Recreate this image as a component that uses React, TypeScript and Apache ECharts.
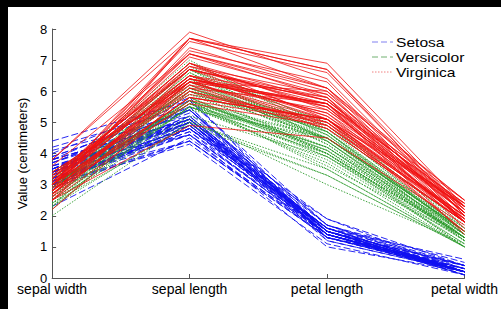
import React, { useEffect, useRef } from "react";
import * as echarts from "echarts";

// Axis order: sepal width, sepal length, petal length, petal width
const categories = ["sepal width", "sepal length", "petal length", "petal width"];
const yTicks = [0, 1, 2, 3, 4, 5, 6, 7, 8];
const speciesNames = ["Setosa", "Versicolor", "Virginica"];

// rows: [sepal length, sepal width, petal length, petal width]
const setosa: number[][] = [
  [5.1,3.5,1.4,0.2],[4.9,3.0,1.4,0.2],[4.7,3.2,1.3,0.2],[4.6,3.1,1.5,0.2],[5.0,3.6,1.4,0.2],
  [5.4,3.9,1.7,0.4],[4.6,3.4,1.4,0.3],[5.0,3.4,1.5,0.2],[4.4,2.9,1.4,0.2],[4.9,3.1,1.5,0.1],
  [5.4,3.7,1.5,0.2],[4.8,3.4,1.6,0.2],[4.8,3.0,1.4,0.1],[4.3,3.0,1.1,0.1],[5.8,4.0,1.2,0.2],
  [5.7,4.4,1.5,0.4],[5.4,3.9,1.3,0.4],[5.1,3.5,1.4,0.3],[5.7,3.8,1.7,0.3],[5.1,3.8,1.5,0.3],
  [5.4,3.4,1.7,0.2],[5.1,3.7,1.5,0.4],[4.6,3.6,1.0,0.2],[5.1,3.3,1.7,0.5],[4.8,3.4,1.9,0.2],
  [5.0,3.0,1.6,0.2],[5.0,3.4,1.6,0.4],[5.2,3.5,1.5,0.2],[5.2,3.4,1.4,0.2],[4.7,3.2,1.6,0.2],
  [4.8,3.1,1.6,0.2],[5.4,3.4,1.5,0.4],[5.2,4.1,1.5,0.1],[5.5,4.2,1.4,0.2],[4.9,3.1,1.5,0.2],
  [5.0,3.2,1.2,0.2],[5.5,3.5,1.3,0.2],[4.9,3.6,1.4,0.1],[4.4,3.0,1.3,0.2],[5.1,3.4,1.5,0.2],
  [5.0,3.5,1.3,0.3],[4.5,2.3,1.3,0.3],[4.4,3.2,1.3,0.2],[5.0,3.5,1.6,0.6],[5.1,3.8,1.9,0.4],
  [4.8,3.0,1.4,0.3],[5.1,3.8,1.6,0.2],[4.6,3.2,1.4,0.2],[5.3,3.7,1.5,0.2],[5.0,3.3,1.4,0.2],
];
const versicolor: number[][] = [
  [7.0,3.2,4.7,1.4],[6.4,3.2,4.5,1.5],[6.9,3.1,4.9,1.5],[5.5,2.3,4.0,1.3],[6.5,2.8,4.6,1.5],
  [5.7,2.8,4.5,1.3],[6.3,3.3,4.7,1.6],[4.9,2.4,3.3,1.0],[6.6,2.9,4.6,1.3],[5.2,2.7,3.9,1.4],
  [5.0,2.0,3.5,1.0],[5.9,3.0,4.2,1.5],[6.0,2.2,4.0,1.0],[6.1,2.9,4.7,1.4],[5.6,2.9,3.6,1.3],
  [6.7,3.1,4.4,1.4],[5.6,3.0,4.5,1.5],[5.8,2.7,4.1,1.0],[6.2,2.2,4.5,1.5],[5.6,2.5,3.9,1.1],
  [5.9,3.2,4.8,1.8],[6.1,2.8,4.0,1.3],[6.3,2.5,4.9,1.5],[6.1,2.8,4.7,1.2],[6.4,2.9,4.3,1.3],
  [6.6,3.0,4.4,1.4],[6.8,2.8,4.8,1.4],[6.7,3.0,5.0,1.7],[6.0,2.9,4.5,1.5],[5.7,2.6,3.5,1.0],
  [5.5,2.4,3.8,1.1],[5.5,2.4,3.7,1.0],[5.8,2.7,3.9,1.2],[6.0,2.7,5.1,1.6],[5.4,3.0,4.5,1.5],
  [6.0,3.4,4.5,1.6],[6.7,3.1,4.7,1.5],[6.3,2.3,4.4,1.3],[5.6,3.0,4.1,1.3],[5.5,2.5,4.0,1.3],
  [5.5,2.6,4.4,1.2],[6.1,3.0,4.6,1.4],[5.8,2.6,4.0,1.2],[5.0,2.3,3.3,1.0],[5.6,2.7,4.2,1.3],
  [5.7,3.0,4.2,1.2],[5.7,2.9,4.2,1.3],[6.2,2.9,4.3,1.3],[5.1,2.5,3.0,1.1],[5.7,2.8,4.1,1.3],
];
const virginica: number[][] = [
  [6.3,3.3,6.0,2.5],[5.8,2.7,5.1,1.9],[7.1,3.0,5.9,2.1],[6.3,2.9,5.6,1.8],[6.5,3.0,5.8,2.2],
  [7.6,3.0,6.6,2.1],[4.9,2.5,4.5,1.7],[7.3,2.9,6.3,1.8],[6.7,2.5,5.8,1.8],[7.2,3.6,6.1,2.5],
  [6.5,3.2,5.1,2.0],[6.4,2.7,5.3,1.9],[6.8,3.0,5.5,2.1],[5.7,2.5,5.0,2.0],[5.8,2.8,5.1,2.4],
  [6.4,3.2,5.3,2.3],[6.5,3.0,5.5,1.8],[7.7,3.8,6.7,2.2],[7.7,2.6,6.9,2.3],[6.0,2.2,5.0,1.5],
  [6.9,3.2,5.7,2.3],[5.6,2.8,4.9,2.0],[7.7,2.8,6.7,2.0],[6.3,2.7,4.9,1.8],[6.7,3.3,5.7,2.1],
  [7.2,3.2,6.0,1.8],[6.2,2.8,4.8,1.8],[6.1,3.0,4.9,1.8],[6.4,2.8,5.6,2.1],[7.2,3.0,5.8,1.6],
  [7.4,2.8,6.1,1.9],[7.9,3.8,6.4,2.0],[6.4,2.8,5.6,2.2],[6.3,2.8,5.1,1.5],[6.1,2.6,5.6,1.4],
  [7.7,3.0,6.1,2.3],[6.3,3.4,5.6,2.4],[6.4,3.1,5.5,1.8],[6.0,3.0,4.8,1.8],[6.9,3.1,5.4,2.1],
  [6.7,3.1,5.6,2.4],[6.9,3.1,5.1,2.3],[5.8,2.7,5.1,1.9],[6.8,3.2,5.9,2.3],[6.7,3.3,5.7,2.5],
  [6.7,3.0,5.2,2.3],[6.3,2.5,5.0,1.9],[6.5,3.0,5.2,2.0],[6.2,3.4,5.4,2.3],[5.9,3.0,5.1,1.8],
];

const FONT = "'Liberation Sans', Arial, Helvetica, sans-serif";
const OFFX = 8;
const OFFY = 7;

const groups = [
  { name: speciesNames[0], rows: setosa, color: "#1010f0", type: [7, 3] as any, width: 0.9, legendColor: "#8080f0" },
  { name: speciesNames[1], rows: versicolor, color: "#2a9a2a", type: [1.5, 1.5] as any, width: 0.9, legendColor: "#70b070" },
  { name: speciesNames[2], rows: virginica, color: "#f01010", type: "solid" as any, width: 0.8, legendColor: "#f08080" },
];

export default function App() {
  const ref = useRef<HTMLDivElement>(null);
  useEffect(() => {
    document.body.style.margin = `${OFFY}px 0 0 ${OFFX}px`;
    document.body.style.background = "#000";
    if (!ref.current) return;
    const chart = echarts.init(ref.current, undefined, { renderer: "svg" });
    const series: any[] = [];
    groups.forEach((g) => {
      g.rows.forEach((r) => {
        series.push({
          type: "line",
          name: g.name,
          data: [r[1], r[0], r[2], r[3]],
          symbol: "none",
          showSymbol: false,
          silent: true,
          lineStyle: { color: g.color, width: g.width, type: g.type },
        });
      });
    });
    const legendY = [42, 57, 72];
    const legendDash = [[6, 3], [6, 3], [1.5, 1.5]];
    const graphics: any[] = [];
    groups.forEach((g, i) => {
      graphics.push({
        type: "line",
        shape: { x1: 372 - OFFX, y1: legendY[i] - OFFY, x2: 393 - OFFX, y2: legendY[i] - OFFY },
        style: { stroke: g.legendColor, lineWidth: 1, lineDash: legendDash[i] },
      });
      graphics.push({
        type: "text",
        x: 396 - OFFX,
        y: legendY[i] - OFFY,
        scaleX: 1.2,
        style: { text: g.name, fill: "#000", font: `13px ${FONT}`, verticalAlign: "middle" },
      });
    });
    chart.setOption({
      animation: false,
      backgroundColor: "#fff",
      grid: { left: 52 - OFFX, right: 36, top: 29 - OFFY, bottom: 31 },
      xAxis: {
        type: "category",
        data: categories,
        boundaryGap: false,
        axisLine: { show: true, lineStyle: { color: "#555", width: 1 } },
        axisTick: { show: true, inside: true, length: 4, alignWithLabel: true, lineStyle: { color: "#555" } },
        axisLabel: { color: "#000", fontSize: 14, fontFamily: FONT, margin: 4, interval: 0 },
        splitLine: { show: false },
      },
      yAxis: {
        type: "value",
        min: yTicks[0],
        max: yTicks[yTicks.length - 1],
        interval: 1,
        name: "Value (centimeters)",
        nameLocation: "middle",
        nameGap: 15,
        nameTextStyle: { color: "#000", fontSize: 13, fontFamily: FONT },
        axisLine: { show: true, lineStyle: { color: "#555", width: 1 } },
        axisTick: { show: true, inside: true, length: 4, lineStyle: { color: "#555" } },
        axisLabel: { color: "#000", fontSize: 13, fontFamily: FONT, margin: 5 },
        splitLine: { show: false },
      },
      series,
      graphic: graphics,
    });
    return () => chart.dispose();
  }, []);
  return <div ref={ref} style={{ width: 501 - OFFX, height: 309 - OFFY, background: "#fff" }} />;
}
